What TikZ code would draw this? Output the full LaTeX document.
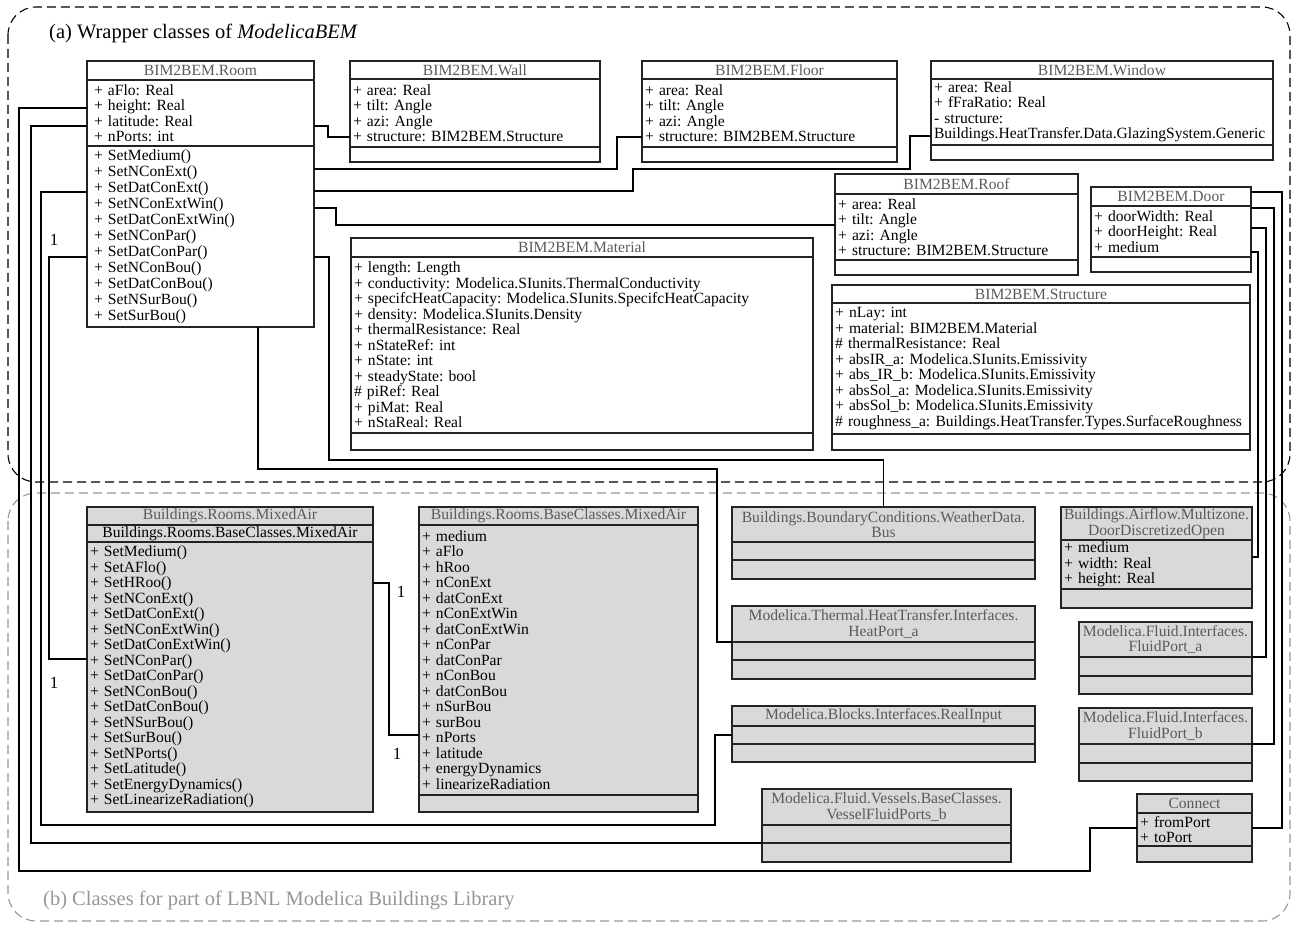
\documentclass[tikz,border=0pt]{standalone}
\usepackage{fontspec}
\setmainfont{Liberation Serif}
\usetikzlibrary{positioning}
\definecolor{clsgray}{RGB}{217,217,217}
\definecolor{ttlgray}{RGB}{90,90,90}
\definecolor{capgray}{RGB}{150,150,150}
\definecolor{boxline}{RGB}{35,35,35}
\frenchspacing

\begin{document}
\begin{tikzpicture}[x=1pt, y=-1pt,
  every node/.style={font=\fontsize{15.6}{15.5}\selectfont},
  part/.style={draw=boxline, line width=1.3pt, outer sep=0pt, inner xsep=3pt, inner ysep=0pt},
  ttl/.style={part, align=center, text=ttlgray},
  att/.style={part, align=left},
  lib/.style={fill=clsgray, line width=1.5pt},
  wire/.style={line width=1.1pt},
  mult/.style={font=\fontsize{17}{17}\selectfont},
  region/.style={dash pattern=on 9pt off 5pt, line width=1.1pt, rounded corners=28pt}]
  \useasboundingbox (0,0) rectangle (1293,925);

  % Regions
  \draw[region] (8,7) rectangle (1290,482);
  \draw[region, capgray] (8,493) rectangle (1290,921);
  \node[anchor=west, inner sep=0pt, font=\fontsize{20.5}{22}\selectfont] (capA) at (49,33) {(a) Wrapper classes of \textit{ModelicaBEM}};
  \node[anchor=west, inner sep=0pt, text=capgray, font=\fontsize{20.5}{22}\selectfont] (capB) at (43,900) {(b) Classes for part of LBNL Modelica Buildings Library};

  % BIM2BEM.Room
  \node[ttl, text width=221pt, minimum height=19pt, anchor=north west] (roomT) at (87,61) {BIM2BEM.Room};
  \node[att, inner xsep=7pt, text width=213pt, minimum height=66pt, below=0pt of roomT] (roomA) {+ aFlo: Real\\+ height: Real\\+ latitude: Real\\+ nPorts: int};
  \node[att, inner xsep=7pt, text width=213pt, minimum height=181pt, below=0pt of roomA, font=\fontsize{15.6}{16}\selectfont] (roomM) {+ SetMedium()\\+ SetNConExt()\\+ SetDatConExt()\\+ SetNConExtWin()\\+ SetDatConExtWin()\\+ SetNConPar()\\+ SetDatConPar()\\+ SetNConBou()\\+ SetDatConBou()\\+ SetNSurBou()\\+ SetSurBou()};

  % BIM2BEM.Wall
  \node[ttl, text width=244pt, minimum height=18pt, anchor=north west] (wallT) at (350,61) {BIM2BEM.Wall};
  \node[att, text width=244pt, minimum height=68pt, below=0pt of wallT] (wallA) {+ area: Real\\+ tilt: Angle\\+ azi: Angle\\+ structure: BIM2BEM.Structure};
  \node[att, text width=244pt, minimum height=15pt, below=0pt of wallA] (wallE) {};

  % BIM2BEM.Floor
  \node[ttl, text width=249pt, minimum height=18pt, anchor=north west] (floorT) at (642,61) {BIM2BEM.Floor};
  \node[att, text width=249pt, minimum height=68pt, below=0pt of floorT] (floorA) {+ area: Real\\+ tilt: Angle\\+ azi: Angle\\+ structure: BIM2BEM.Structure};
  \node[att, text width=249pt, minimum height=15pt, below=0pt of floorA] (floorE) {};

  % BIM2BEM.Window
  \node[ttl, text width=336pt, minimum height=18pt, anchor=north west] (winT) at (931,61) {BIM2BEM.Window};
  \node[att, text width=336pt, minimum height=66pt, below=0pt of winT] (winA) {+ area: Real\\+ fFraRatio: Real\\- structure:\\Buildings.HeatTransfer.Data.GlazingSystem.Generic};
  \node[att, text width=336pt, minimum height=15pt, below=0pt of winA] (winE) {};

  % BIM2BEM.Roof
  \node[ttl, text width=237pt, minimum height=20pt, anchor=north west] (roofT) at (835,174) {BIM2BEM.Roof};
  \node[att, text width=237pt, minimum height=66pt, below=0pt of roofT] (roofA) {+ area: Real\\+ tilt: Angle\\+ azi: Angle\\+ structure: BIM2BEM.Structure};
  \node[att, text width=237pt, minimum height=15pt, below=0pt of roofA] (roofE) {};

  % BIM2BEM.Door
  \node[ttl, text width=154pt, minimum height=19pt, anchor=north west] (doorT) at (1091,187) {BIM2BEM.Door};
  \node[att, text width=154pt, minimum height=51pt, below=0pt of doorT] (doorA) {+ doorWidth: Real\\+ doorHeight: Real\\+ medium};
  \node[att, text width=154pt, minimum height=15pt, below=0pt of doorA] (doorE) {};

  % BIM2BEM.Material
  \node[ttl, text width=456pt, minimum height=19pt, anchor=north west] (matT) at (351,238) {BIM2BEM.Material};
  \node[att, text width=456pt, minimum height=176pt, below=0pt of matT] (matA) {+ length: Length\\+ conductivity: Modelica.SIunits.ThermalConductivity\\+ specifcHeatCapacity: Modelica.SIunits.SpecifcHeatCapacity\\+ density: Modelica.SIunits.Density\\+ thermalResistance: Real\\+ nStateRef: int\\+ nState: int\\+ steadyState: bool\\\# piRef: Real\\+ piMat: Real\\+ nStaReal: Real};
  \node[att, text width=456pt, minimum height=17pt, below=0pt of matA] (matE) {};

  % BIM2BEM.Structure
  \node[ttl, text width=412pt, minimum height=18pt, anchor=north west] (strT) at (832,285) {BIM2BEM.Structure};
  \node[att, text width=412pt, minimum height=131pt, below=0pt of strT] (strA) {+ nLay: int\\+ material: BIM2BEM.Material\\\# thermalResistance: Real\\+ absIR\_a: Modelica.SIunits.Emissivity\\+ abs\_IR\_b: Modelica.SIunits.Emissivity\\+ absSol\_a: Modelica.SIunits.Emissivity\\+ absSol\_b: Modelica.SIunits.Emissivity\\\# roughness\_a: Buildings.HeatTransfer.Types.SurfaceRoughness};
  \node[att, text width=412pt, minimum height=16pt, below=0pt of strA] (strE) {};

  % Buildings.Rooms.MixedAir
  \node[ttl, lib, text width=280pt, minimum height=18pt, anchor=north west] (mixT) at (87,507) {Buildings.Rooms.MixedAir};
  \node[att, lib, align=center, text width=280pt, minimum height=17pt, below=0pt of mixT] (mixB) {Buildings.Rooms.BaseClasses.MixedAir};
  \node[att, lib, text width=280pt, minimum height=270pt, below=0pt of mixB] (mixM) {+ SetMedium()\\+ SetAFlo()\\+ SetHRoo()\\+ SetNConExt()\\+ SetDatConExt()\\+ SetNConExtWin()\\+ SetDatConExtWin()\\+ SetNConPar()\\+ SetDatConPar()\\+ SetNConBou()\\+ SetDatConBou()\\+ SetNSurBou()\\+ SetSurBou()\\+ SetNPorts()\\+ SetLatitude()\\+ SetEnergyDynamics()\\+ SetLinearizeRadiation()};

  % Buildings.Rooms.BaseClasses.MixedAir
  \node[ttl, lib, text width=273pt, minimum height=18pt, anchor=north west] (baseT) at (419,507) {Buildings.Rooms.BaseClasses.MixedAir};
  \node[att, lib, text width=273pt, minimum height=270pt, below=0pt of baseT] (baseA) {+ medium\\+ aFlo\\+ hRoo\\+ nConExt\\+ datConExt\\+ nConExtWin\\+ datConExtWin\\+ nConPar\\+ datConPar\\+ nConBou\\+ datConBou\\+ nSurBou\\+ surBou\\+ nPorts\\+ latitude\\+ energyDynamics\\+ linearizeRadiation};
  \node[att, lib, text width=273pt, minimum height=17pt, below=0pt of baseA] (baseE) {};

  % Weather bus, heat port, real input, vessel ports
  \node[ttl, lib, text width=297pt, minimum height=35pt, anchor=north west] (busT) at (732,507) {Buildings.BoundaryConditions.WeatherData.\\Bus};
  \node[att, lib, text width=297pt, minimum height=18pt, below=0pt of busT] (busA) {};
  \node[att, lib, text width=297pt, minimum height=19pt, below=0pt of busA] (busE) {};

  \node[ttl, lib, text width=297pt, minimum height=36pt, anchor=north west] (hpT) at (732,606) {Modelica.Thermal.HeatTransfer.Interfaces.\\HeatPort\_a};
  \node[att, lib, text width=297pt, minimum height=18pt, below=0pt of hpT] (hpA) {};
  \node[att, lib, text width=297pt, minimum height=19pt, below=0pt of hpA] (hpE) {};

  \node[ttl, lib, text width=297pt, minimum height=20pt, anchor=north west] (riT) at (732,706) {Modelica.Blocks.Interfaces.RealInput};
  \node[att, lib, text width=297pt, minimum height=18pt, below=0pt of riT] (riA) {};
  \node[att, lib, text width=297pt, minimum height=18pt, below=0pt of riA] (riE) {};

  \node[ttl, lib, text width=243pt, minimum height=36pt, anchor=north west] (vesT) at (762,789) {Modelica.Fluid.Vessels.BaseClasses.\\VesselFluidPorts\_b};
  \node[att, lib, text width=243pt, minimum height=18pt, below=0pt of vesT] (vesA) {};
  \node[att, lib, text width=243pt, minimum height=19pt, below=0pt of vesA] (vesE) {};

  % Door opening and fluid ports
  \node[ttl, lib, text width=185pt, minimum height=33pt, anchor=north west] (ddT) at (1061,507) {Buildings.Airflow.Multizone.\\DoorDiscretizedOpen};
  \node[att, lib, text width=185pt, minimum height=49pt, below=0pt of ddT] (ddA) {+ medium\\+ width: Real\\+ height: Real};
  \node[att, lib, text width=185pt, minimum height=19pt, below=0pt of ddA] (ddE) {};

  \node[ttl, lib, text width=167pt, minimum height=35pt, anchor=north west] (faT) at (1079,622) {Modelica.Fluid.Interfaces.\\FluidPort\_a};
  \node[att, lib, text width=167pt, minimum height=19pt, below=0pt of faT] (faA) {};
  \node[att, lib, text width=167pt, minimum height=18pt, below=0pt of faA] (faE) {};

  \node[ttl, lib, text width=167pt, minimum height=36pt, anchor=north west] (fbT) at (1079,708) {Modelica.Fluid.Interfaces.\\FluidPort\_b};
  \node[att, lib, text width=167pt, minimum height=19pt, below=0pt of fbT] (fbA) {};
  \node[att, lib, text width=167pt, minimum height=18pt, below=0pt of fbA] (fbE) {};

  % Connect
  \node[ttl, lib, text width=109pt, minimum height=19pt, anchor=north west] (conT) at (1137,794) {Connect};
  \node[att, lib, text width=109pt, minimum height=33pt, below=0pt of conT] (conA) {+ fromPort\\+ toPort};
  \node[att, lib, text width=109pt, minimum height=16pt, below=0pt of conA] (conE) {};

  % Room connectors, left side
  \draw[wire] (roomA.west |- 0,108) -| (19,871) -| (1090,828) -- (conA.west |- 0,828);
  \draw[wire] (roomA.west |- 0,126) -| (31,843) -- (vesA.south west);
  \draw[wire] (roomM.west |- 0,192) -| (41,825) -| (715,735) -- (riA.west);
  \draw[wire] (roomM.west |- 0,257) -| (49,659) -- (mixM.west |- 0,659);

  % Room connectors, right side
  \draw[wire] (roomA.east |- 0,126) -| (328,137) -- (wallA.west |- 0,137);
  \draw[wire] (roomM.east |- 0,169) -| (617,137) -- (floorA.west |- 0,137);
  \draw[wire] (roomM.east |- 0,191) -| (633,169) -| (910,136) -- (winA.west |- 0,136);
  \draw[wire] (roomM.east |- 0,208) -| (336,225) -- (roofA.west |- 0,225);
  \draw[wire] (roomM.east |- 0,257) -| (329,460) -| (busT.north);
  \draw[wire] (roomM.south -| 258,0) |- (717,469) |- (hpT.south west);

  % MixedAir to base class
  \draw[wire] (mixM.east |- 0,583) -| (389,735) -- (baseA.west |- 0,735);

  % Door connectors
  \draw[wire] (doorT.east |- 0,192) -| (1282,828) -- (conA.east |- 0,828);
  \draw[wire] (doorA.east |- 0,208) -| (1274,744) -- (fbT.south east);
  \draw[wire] (doorA.east |- 0,228) -| (1266,657) -- (faT.south east);
  \draw[wire] (doorA.east |- 0,252) -| (1258,557) -- (ddA.east |- 0,557);

  % Multiplicities
  \node[mult] (m1) at (54,240) {1};
  \node[mult] (m2) at (54,683) {1};
  \node[mult] (m3) at (401,592) {1};
  \node[mult] (m4) at (397,754) {1};
\end{tikzpicture}
\end{document}
